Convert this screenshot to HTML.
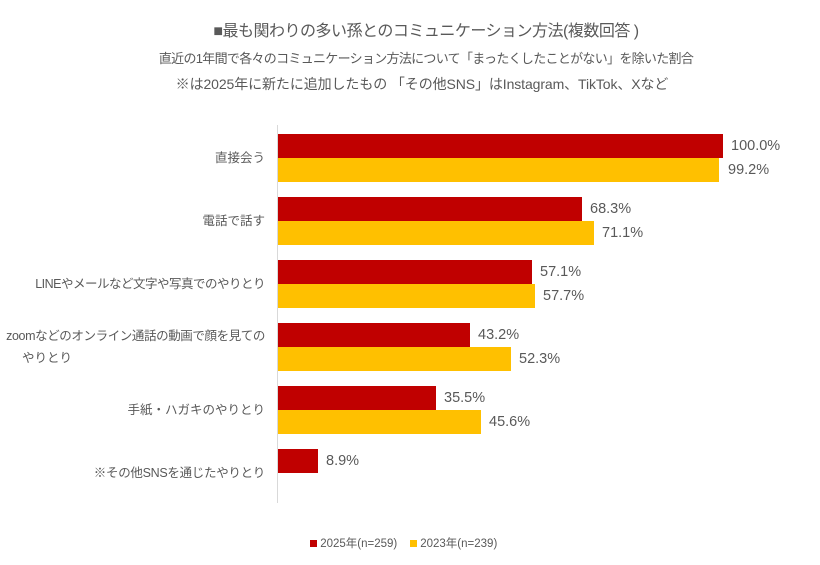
<!DOCTYPE html>
<html><head><meta charset="utf-8"><style>
body{margin:0;background:#fff;width:820px;height:565px;overflow:hidden;font-family:"Liberation Sans","Noto Sans CJK JP",sans-serif;color:#595959;position:relative}
.t{position:absolute;left:0;width:820px;text-align:center;white-space:nowrap}
.b{position:absolute;left:278px;height:24px}
.r{background:#c00000}.y{background:#ffc000}
.v{position:absolute;font-size:14.5px;line-height:24px}
.l{position:absolute;right:555px;font-size:12.5px;text-align:right;line-height:22px;white-space:nowrap}
</style></head><body>
<div class="t" style="top:17px;left:16px;font-size:16px;letter-spacing:-0.5px">■最も関わりの多い孫とのコミュニケーション方法(複数回答 )</div>
<div class="t" style="top:48px;left:16px;font-size:13px;letter-spacing:-0.7px">直近の1年間で各々のコミュニケーション方法について「まったくしたことがない」を除いた割合</div>
<div class="t" style="top:74px;font-size:14px;left:12px;letter-spacing:-0.1px">※は2025年に新たに追加したもの 「その他SNS」はInstagram、TikTok、Xなど</div>
<div style="position:absolute;left:277px;top:125px;width:1px;height:378px;background:#d9d9d9"></div>

<div class="b r" style="top:134px;width:445px"></div><div class="v" style="top:134px;left:731px">100.0%</div>
<div class="b y" style="top:158px;width:441px"></div><div class="v" style="top:158px;left:728px">99.2%</div>
<div class="l" style="top:147px">直接会う</div>

<div class="b r" style="top:197px;width:304px"></div><div class="v" style="top:197px;left:590px">68.3%</div>
<div class="b y" style="top:221px;width:316px"></div><div class="v" style="top:221px;left:602px">71.1%</div>
<div class="l" style="top:210px">電話で話す</div>

<div class="b r" style="top:260px;width:254px"></div><div class="v" style="top:260px;left:540px">57.1%</div>
<div class="b y" style="top:284px;width:257px"></div><div class="v" style="top:284px;left:543px">57.7%</div>
<div class="l" style="top:273px;letter-spacing:-0.5px">LINEやメールなど文字や写真でのやりとり</div>

<div class="b r" style="top:323px;width:192px"></div><div class="v" style="top:323px;left:478px">43.2%</div>
<div class="b y" style="top:347px;width:233px"></div><div class="v" style="top:347px;left:519px">52.3%</div>
<div class="l" style="top:325px;letter-spacing:-0.4px">zoomなどのオンライン通話の動画で顔を見ての</div>
<div class="l" style="top:347px;left:22px;right:auto;text-align:left">やりとり</div>

<div class="b r" style="top:386px;width:158px"></div><div class="v" style="top:386px;left:444px">35.5%</div>
<div class="b y" style="top:410px;width:203px"></div><div class="v" style="top:410px;left:489px">45.6%</div>
<div class="l" style="top:399px">手紙・ハガキのやりとり</div>

<div class="b r" style="top:449px;width:40px"></div><div class="v" style="top:449px;left:326px">8.9%</div>
<div class="l" style="top:462px;letter-spacing:-0.3px">※その他SNSを通じたやりとり</div>

<div style="position:absolute;top:538px;left:310px;font-size:11.5px;white-space:nowrap;line-height:12px">
<span style="display:inline-block;width:7px;height:7px;background:#c00000"></span> 2025年(n=259)&nbsp;&nbsp;&nbsp;
<span style="display:inline-block;width:7px;height:7px;background:#ffc000"></span> 2023年(n=239)</div>
</body></html>
